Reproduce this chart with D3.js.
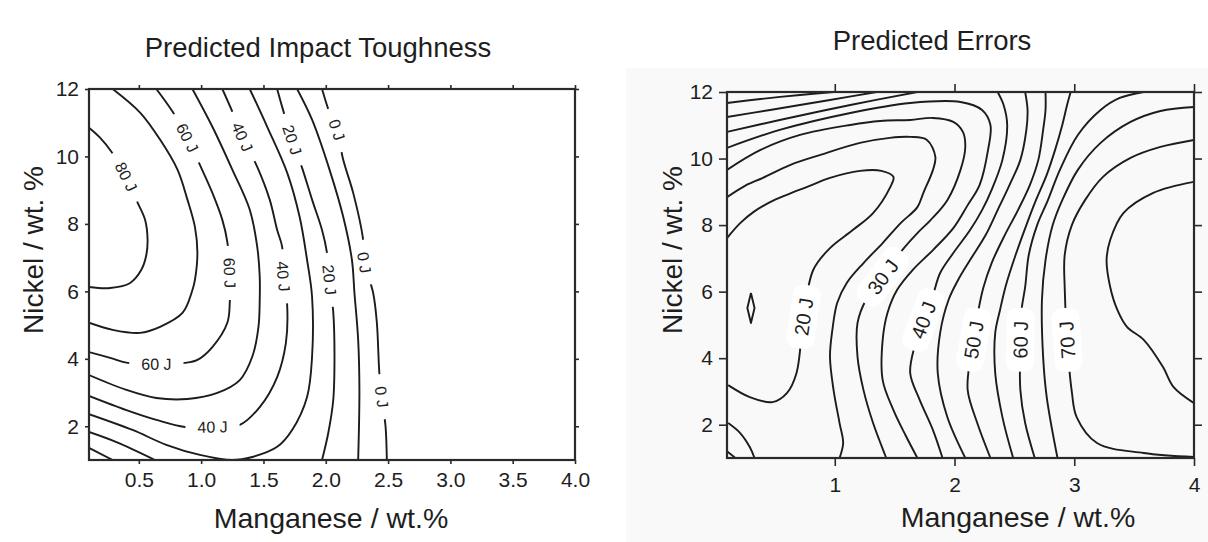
<!DOCTYPE html>
<html>
<head>
<meta charset="utf-8">
<script src="https://cdn.jsdelivr.net/npm/d3@7"></script>
<style>
  body { margin: 0; background: #fff; }
  svg text { font-family: "Liberation Sans", Arial, sans-serif; fill: #1e1e1e; }
</style>
</head>
<body>
<svg id="chart" width="1208" height="542"></svg>
<script>
// ---------- axis ticks ----------
const toughMnTicks = [0.5, 1.0, 1.5, 2.0, 2.5, 3.0, 3.5, 4.0];
const errMnTicks = [1, 2, 3, 4];
const niTicks = [2, 4, 6, 8, 10, 12];

// ---------- predicted impact toughness: contour lines [Mn wt.%, Ni wt.%] ----------
const tough80 = [[0.10,10.85],[0.19,10.55],[0.28,10.14],[0.39,9.46],[0.49,8.63],[0.55,8.12],[0.57,7.53],[0.56,7.08],[0.52,6.64],[0.43,6.25],[0.27,6.10],[0.10,6.13]];
const tough70 = [[0.29,12.0],[0.51,11.30],[0.67,10.50],[0.81,9.61],[0.89,8.72],[0.95,7.91],[0.97,7.14],[0.95,6.34],[0.93,6.04],[0.85,5.36],[0.67,4.95],[0.51,4.77],[0.29,4.86],[0.10,5.07]];
const tough60 = [[0.64,12.0],[0.77,11.33],[0.89,10.55],[0.99,9.75],[1.09,8.92],[1.17,8.12],[1.21,7.47],[1.23,6.55],[1.23,5.69],[1.21,5.07],[1.09,4.35],[0.97,3.97],[0.87,3.88],[0.64,3.85],[0.41,3.88],[0.27,4.03],[0.10,4.20]];
const tough50 = [[0.93,12.0],[1.09,10.88],[1.25,9.61],[1.39,8.42],[1.45,7.32],[1.47,6.43],[1.47,5.75],[1.46,4.95],[1.41,4.06],[1.31,3.37],[1.13,2.99],[0.89,2.81],[0.64,2.84],[0.40,3.08],[0.10,3.52]];
const tough40 = [[1.17,12.0],[1.25,11.33],[1.33,10.58],[1.45,9.69],[1.55,8.72],[1.61,7.82],[1.65,7.32],[1.66,6.43],[1.69,5.60],[1.68,4.47],[1.61,3.46],[1.47,2.57],[1.31,2.04],[1.09,1.98],[0.87,1.98],[0.64,2.19],[0.40,2.48],[0.10,2.90]];
const tough30 = [[1.39,12.0],[1.53,10.88],[1.69,9.52],[1.79,8.21],[1.85,6.93],[1.89,5.84],[1.89,4.06],[1.85,2.87],[1.73,1.89],[1.61,1.39],[1.41,1.09],[1.25,1.0],[0.99,1.15],[0.72,1.45],[0.45,1.89],[0.10,2.36]];
const tough20 = [[1.61,12.0],[1.65,11.47],[1.73,10.50],[1.81,9.66],[1.89,8.72],[1.97,7.82],[2.01,7.14],[2.03,6.34],[2.06,5.39],[2.07,4.06],[2.06,2.78],[2.02,1.80],[1.97,1.0]];
const tough20corner = [[0.10,1.83],[0.32,1.53],[0.63,1.0]];
const tough10 = [[1.77,12.0],[1.89,11.09],[2.03,9.61],[2.14,8.21],[2.21,6.93],[2.23,5.96],[2.26,4.56],[2.27,3.08],[2.26,1.0]];
const tough10corner = [[0.10,1.36],[0.29,1.0]];
const tough0 = [[1.97,12.0],[2.03,11.30],[2.09,10.79],[2.14,9.90],[2.22,8.92],[2.30,7.53],[2.31,6.85],[2.38,5.96],[2.41,5.07],[2.43,3.58],[2.45,2.87],[2.48,1.98],[2.49,1.0]];

// contour labels: level and the spot on the line where it is written
const toughLabelSpots = [
  [80, 0.40, 9.40],
  [60, 0.89, 10.55], [60, 1.23, 6.55], [60, 0.64, 3.85],
  [40, 1.33, 10.58], [40, 1.64, 6.43], [40, 1.09, 1.98],
  [20, 1.73, 10.50], [20, 2.01, 6.34],
  [0, 2.09, 10.79], [0, 2.31, 6.85], [0, 2.44, 2.87]
];

// ---------- predicted errors: contour lines [Mn wt.%, Ni wt.%] ----------
const err10corner = [[0.10,1.20],[0.17,1.0]];
const err15corner = [[0.11,2.05],[0.21,1.75],[0.29,1.33],[0.33,1.0]];
const err15loop = [[0.30,5.96],[0.33,5.51],[0.30,5.06],[0.27,5.51],[0.30,5.96]];
const err20 = [[0.10,7.61],[0.21,8.06],[0.32,8.39],[0.46,8.69],[0.60,8.91],[0.77,9.15],[0.96,9.42],[1.21,9.63],[1.39,9.63],[1.49,9.45],[1.46,9.12],[1.32,8.36],[1.15,7.85],[0.96,7.31],[0.82,6.65],[0.74,5.24],[0.68,3.55],[0.60,2.95],[0.48,2.68],[0.29,2.83],[0.11,3.19]];
const err25 = [[0.10,8.84],[0.25,9.18],[0.40,9.42],[0.63,9.81],[0.88,10.11],[1.21,10.47],[1.46,10.62],[1.63,10.65],[1.77,10.56],[1.84,10.05],[1.82,9.66],[1.74,8.97],[1.69,8.54],[1.55,8.06],[1.40,7.46],[1.24,6.86],[1.10,6.26],[1.02,5.66],[0.98,4.85],[0.96,4.04],[0.99,3.04],[1.04,2.05],[1.07,1.45],[1.04,1.0]];
const err30 = [[0.10,9.66],[0.38,10.26],[0.71,10.71],[1.13,11.01],[1.38,11.13],[1.63,11.16],[1.82,11.22],[1.99,11.10],[2.07,10.80],[2.09,10.35],[2.05,9.66],[1.94,8.75],[1.80,8.15],[1.69,7.76],[1.55,7.19],[1.40,6.44],[1.26,5.75],[1.19,5.06],[1.19,4.04],[1.24,3.04],[1.32,2.05],[1.42,1.09],[1.43,1.0]];
const err35 = [[0.10,10.32],[0.54,10.86],[1.13,11.37],[1.63,11.67],[2.05,11.70],[2.23,11.46],[2.30,11.01],[2.28,10.26],[2.21,9.21],[2.11,8.60],[1.99,7.91],[1.82,7.25],[1.65,6.65],[1.52,6.05],[1.44,5.36],[1.40,4.55],[1.40,3.34],[1.49,2.44],[1.59,1.69],[1.69,1.0]];
const err40corner = [[0.10,10.80],[0.54,11.16],[1.13,11.61],[1.69,12.0]];
const err45corner = [[0.10,11.25],[0.46,11.46],[0.96,11.76],[1.35,12.0]];
const err50corner = [[0.10,11.67],[0.38,11.79],[0.71,11.91],[0.99,12.0]];
const err40 = [[1.90,1.0],[1.82,1.84],[1.71,2.74],[1.63,3.55],[1.67,4.40],[1.74,5.15],[1.82,5.90],[1.88,6.56],[1.99,7.16],[2.13,7.85],[2.23,8.45],[2.31,9.06],[2.40,9.96],[2.44,11.01],[2.41,11.61],[2.36,12.0]];
const err45 = [[2.09,1.0],[1.94,2.23],[1.86,3.55],[1.88,4.76],[1.95,5.75],[2.03,6.35],[2.13,6.95],[2.26,7.70],[2.36,8.45],[2.46,9.21],[2.55,9.96],[2.60,10.86],[2.61,11.46],[2.59,12.0]];
const err50 = [[2.30,1.0],[2.19,2.05],[2.11,3.04],[2.13,3.95],[2.16,4.55],[2.20,5.45],[2.24,6.11],[2.31,6.86],[2.42,7.70],[2.53,8.45],[2.63,9.21],[2.70,9.96],[2.74,10.86],[2.76,11.46],[2.76,12.0]];
const err55 = [[2.49,1.0],[2.40,2.23],[2.34,3.55],[2.34,4.76],[2.38,5.45],[2.43,6.20],[2.51,7.10],[2.60,8.0],[2.68,8.75],[2.77,9.51],[2.84,10.26],[2.90,11.01],[2.94,11.61],[2.97,12.0]];
const err60 = [[2.67,1.0],[2.59,2.05],[2.55,3.04],[2.55,4.55],[2.56,5.45],[2.59,6.14],[2.62,7.10],[2.69,8.0],[2.78,8.75],[2.88,9.66],[3.03,10.71],[3.22,11.46],[3.38,11.82],[3.58,12.0]];
const err65 = [[2.86,1.0],[2.77,2.83],[2.74,4.04],[2.73,5.75],[2.76,6.95],[2.82,8.0],[2.90,8.75],[3.03,9.66],[3.22,10.47],[3.47,11.10],[3.72,11.43],[4.0,11.55]];
const err70 = [[4.0,1.03],[3.58,1.15],[3.19,1.45],[3.02,2.23],[2.98,2.98],[2.94,4.55],[2.92,6.14],[2.92,7.10],[2.98,8.0],[3.09,8.75],[3.24,9.45],[3.47,10.02],[3.72,10.35],[4.0,10.56]];
const err75 = [[4.0,9.30],[3.66,8.97],[3.41,8.36],[3.30,7.55],[3.27,6.95],[3.30,6.14],[3.36,5.45],[3.44,4.94],[3.58,4.55],[3.74,3.74],[3.83,3.13],[4.0,2.65]];

const errLabelSpots = [
  [20, 0.74, 5.24], [30, 1.40, 6.44], [40, 1.74, 5.15],
  [50, 2.16, 4.55], [60, 2.55, 4.55], [70, 2.94, 4.55]
];

// ---------- drawing ----------
const svg = d3.select("#chart");
svg.append("rect").attr("width", 1208).attr("height", 542).attr("fill", "#ffffff");
// the second figure sits on a faintly grey sheet
svg.append("rect").attr("x", 626).attr("y", 68).attr("width", 582).attr("height", 474).attr("fill", "#f9f9f9");
svg.append("rect").attr("x", 812).attr("y", 16).attr("width", 292).attr("height", 48).attr("fill", "#ffffff");

function drawPanel(cfg) {
  const g = svg.append("g");
  const x = d3.scaleLinear().domain(cfg.xDomain).range(cfg.xRange);
  const y = d3.scaleLinear().domain([1, 12]).range(cfg.yRange);
  const clipId = "clip-" + cfg.id;
  g.append("clipPath").attr("id", clipId).append("rect")
    .attr("x", cfg.xRange[0]).attr("y", cfg.yRange[1])
    .attr("width", cfg.xRange[1] - cfg.xRange[0]).attr("height", cfg.yRange[0] - cfg.yRange[1]);

  if (cfg.plotFill) {
    g.append("rect").attr("x", cfg.xRange[0]).attr("y", cfg.yRange[1])
      .attr("width", cfg.xRange[1] - cfg.xRange[0]).attr("height", cfg.yRange[0] - cfg.yRange[1])
      .attr("fill", cfg.plotFill);
  }

  const smooth = d3.line().x(d => x(d[0])).y(d => y(d[1])).curve(d3.curveCatmullRom.alpha(0.5));
  const straight = d3.line().x(d => x(d[0])).y(d => y(d[1]));
  const lineLayer = g.append("g").attr("clip-path", `url(#${clipId})`);
  const drawn = cfg.contours.map(c => ({
    level: c.level,
    node: lineLayer.append("path")
      .attr("d", (c.straight ? straight : smooth)(c.pts))
      .attr("fill", "none").attr("stroke", "#1c1c1c")
      .attr("stroke-width", cfg.lineWidth).attr("stroke-linejoin", "round").node()
  }));

  // contour labels, written along the line with a knockout behind them
  const labelLayer = g.append("g");
  cfg.labels.forEach(([level, lx, ly]) => {
    const tx = x(lx), ty = y(ly);
    let best = null;
    drawn.filter(d => d.level === level).forEach(d => {
      const len = d.node.getTotalLength();
      for (let l = 0; l <= len; l += 0.5) {
        const p = d.node.getPointAtLength(l);
        const dist = (p.x - tx) ** 2 + (p.y - ty) ** 2;
        if (!best || dist < best.dist) best = { dist, l, node: d.node, len };
      }
    });
    const p = best.node.getPointAtLength(best.l);
    const a = best.node.getPointAtLength(Math.max(0, best.l - 5));
    const b = best.node.getPointAtLength(Math.min(best.len, best.l + 5));
    let ang = Math.atan2(b.y - a.y, b.x - a.x) * 180 / Math.PI;
    while (ang > cfg.angleRange[1]) ang -= 180;
    while (ang <= cfg.angleRange[0]) ang += 180;
    const lg = labelLayer.append("g").attr("transform", `translate(${p.x},${p.y}) rotate(${ang})`);
    const bg = lg.append("rect").attr("fill", cfg.labelBg);
    const t = lg.append("text").attr("text-anchor", "middle").attr("dy", "0.36em")
      .attr("font-size", cfg.labelSize).text(`${level} J`);
    const w = t.node().getComputedTextLength();
    bg.attr("x", -w / 2 - cfg.labelPad).attr("width", w + 2 * cfg.labelPad)
      .attr("y", -cfg.labelHalo).attr("height", 2 * cfg.labelHalo)
      .attr("rx", cfg.labelRound).attr("ry", cfg.labelRound);
  });

  // axes on all four sides, ticks pointing out
  const styleAxis = sel => {
    sel.select(".domain").remove();
    sel.selectAll(".tick line").attr("stroke", "#2a2a2a").attr("stroke-width", 1.6);
    sel.selectAll(".tick text").attr("font-size", cfg.tickSize).attr("fill", "#1e1e1e")
      .attr("font-family", '"Liberation Sans", Arial, sans-serif');
  };
  g.append("g").attr("transform", `translate(0,${cfg.yRange[0]})`)
    .call(d3.axisBottom(x).tickValues(cfg.xTicks).tickFormat(cfg.xFormat).tickSize(cfg.tickLen).tickPadding(cfg.xPad))
    .call(styleAxis);
  g.append("g").attr("transform", `translate(0,${cfg.yRange[1]})`)
    .call(d3.axisTop(x).tickValues(cfg.xTicks).tickFormat("").tickSize(cfg.tickLen))
    .call(styleAxis);
  g.append("g").attr("transform", `translate(${cfg.xRange[0]},0)`)
    .call(d3.axisLeft(y).tickValues(niTicks).tickFormat(d3.format("d")).tickSize(cfg.tickLen).tickPadding(cfg.yPad))
    .call(styleAxis);
  g.append("g").attr("transform", `translate(${cfg.xRange[1]},0)`)
    .call(d3.axisRight(y).tickValues(niTicks).tickFormat("").tickSize(cfg.tickLen))
    .call(styleAxis);

  // frame
  g.append("rect").attr("x", cfg.xRange[0]).attr("y", cfg.yRange[1])
    .attr("width", cfg.xRange[1] - cfg.xRange[0]).attr("height", cfg.yRange[0] - cfg.yRange[1])
    .attr("fill", "none").attr("stroke", "#2a2a2a").attr("stroke-width", 2.2);

  // titles
  g.append("text").attr("x", cfg.title[1]).attr("y", cfg.title[2]).attr("text-anchor", "middle")
    .attr("font-size", 27.5).text(cfg.title[0]);
  g.append("text").attr("x", cfg.xLabelPos[0]).attr("y", cfg.xLabelPos[1]).attr("text-anchor", "middle")
    .attr("font-size", 28.5).text("Manganese / wt.%");
  g.append("text").attr("transform", `translate(${cfg.yLabelPos[0]},${cfg.yLabelPos[1]}) rotate(-90)`)
    .attr("text-anchor", "middle").attr("font-size", 28).text("Nickel / wt. %");
}

drawPanel({
  id: "tough",
  xDomain: [0.1, 4.0], xRange: [89, 575], yRange: [460, 89],
  xTicks: toughMnTicks, xFormat: d3.format(".1f"),
  tickLen: 4, xPad: 8, yPad: 6, tickSize: 21,
  lineWidth: 1.9, plotFill: "#ffffff",
  contours: [
    { level: 80, pts: tough80 }, { level: 70, pts: tough70 }, { level: 60, pts: tough60 },
    { level: 50, pts: tough50 }, { level: 40, pts: tough40 }, { level: 30, pts: tough30 },
    { level: 20, pts: tough20 }, { level: 20, pts: tough20corner },
    { level: 10, pts: tough10 }, { level: 10, pts: tough10corner }, { level: 0, pts: tough0 }
  ],
  labels: toughLabelSpots, labelSize: 16, labelBg: "#ffffff", labelPad: 12, labelHalo: 8, labelRound: 0,
  angleRange: [-45, 135],
  title: ["Predicted Impact Toughness", 318, 57],
  xLabelPos: [331, 528], yLabelPos: [43, 250]
});

drawPanel({
  id: "err",
  xDomain: [0.1, 4.0], xRange: [727, 1194], yRange: [458, 92],
  xTicks: errMnTicks, xFormat: d3.format("d"),
  tickLen: 8, xPad: 11, yPad: 6, tickSize: 21,
  lineWidth: 1.9, plotFill: null,
  contours: [
    { level: 10, pts: err10corner }, { level: 15, pts: err15corner }, { level: 15, pts: err15loop, straight: true },
    { level: 20, pts: err20 }, { level: 25, pts: err25 }, { level: 30, pts: err30 }, { level: 35, pts: err35 },
    { level: 40, pts: err40corner }, { level: 45, pts: err45corner }, { level: 50, pts: err50corner },
    { level: 40, pts: err40 }, { level: 45, pts: err45 }, { level: 50, pts: err50 }, { level: 55, pts: err55 },
    { level: 60, pts: err60 }, { level: 65, pts: err65 }, { level: 70, pts: err70 }, { level: 75, pts: err75 }
  ],
  labels: errLabelSpots, labelSize: 20, labelBg: "#ffffff", labelPad: 13, labelHalo: 14, labelRound: 10,
  angleRange: [-135, 45],
  title: ["Predicted Errors", 932, 50],
  xLabelPos: [1018, 527], yLabelPos: [682, 250]
});
</script>
</body>
</html>
